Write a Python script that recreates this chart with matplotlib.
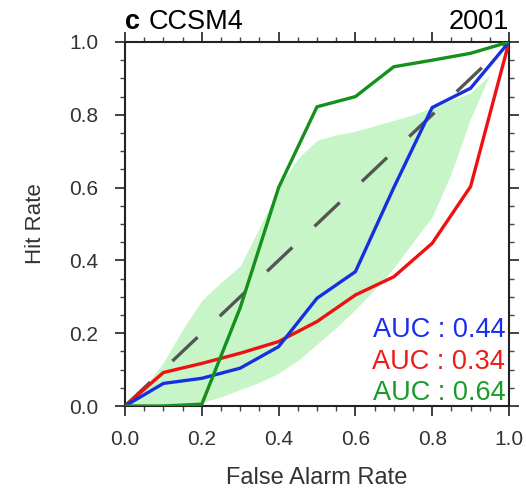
import matplotlib
matplotlib.use("Agg")
import matplotlib.pyplot as plt
from matplotlib.ticker import MultipleLocator

plt.rcParams['font.family'] = ['Liberation Sans', 'DejaVu Sans']
plt.rcParams['lines.scale_dashes'] = False

# ROC data
far = [0.0, 0.1, 0.2, 0.3, 0.4, 0.5, 0.6, 0.7, 0.8, 0.9, 1.0]
hit_blue = [0.0, 0.062, 0.076, 0.104, 0.163, 0.296, 0.369, 0.60, 0.82, 0.873, 1.0]
hit_red = [0.0, 0.092, 0.117, 0.145, 0.177, 0.232, 0.305, 0.355, 0.447, 0.603, 1.0]
hit_green = [0.0, 0.0, 0.005, 0.27, 0.60, 0.822, 0.850, 0.932, 0.95, 0.969, 1.0]

# shaded envelope
env_x = [0.0, 0.05, 0.1, 0.15, 0.2, 0.25, 0.3, 0.35, 0.4, 0.45, 0.5, 0.55, 0.6,
         0.65, 0.7, 0.75, 0.8, 0.85, 0.9, 0.95, 1.0]
env_lower = [0.0, 0.0, 0.0, 0.005, 0.01, 0.025, 0.045, 0.065, 0.09, 0.125, 0.17,
             0.215, 0.265, 0.32, 0.38, 0.45, 0.52, 0.64, 0.79, 0.91, 1.0]
env_upper = [0.0, 0.05, 0.12, 0.21, 0.29, 0.34, 0.385, 0.49, 0.60, 0.68, 0.73,
             0.745, 0.755, 0.77, 0.785, 0.80, 0.82, 0.84, 0.86, 0.91, 1.0]

diag = [0.0, 1.0]
auc_labels = ["AUC : 0.44", "AUC : 0.34", "AUC : 0.64"]
auc_colors = ["#1a2cf0", "#f01a1a", "#1a9a2a"]

fig = plt.figure(figsize=(5.26, 4.93), dpi=100)
ax = fig.add_axes([125/526, 1 - 406/493, 384/526, 364/493])

ax.fill_between(env_x, env_lower, env_upper, color='#c8f5c8', lw=0, zorder=1)
ax.plot(diag, diag, color='#555555', lw=2.4, dashes=(25, 22), zorder=2)
ax.plot(far, hit_red, color='#ee1111', lw=2.4, zorder=3)
ax.plot(far, hit_blue, color='#1530e0', lw=2.4, zorder=4)
ax.plot(far, hit_green, color='#15901d', lw=2.4, zorder=5)

ax.set_xlim(0, 1)
ax.set_ylim(0, 1)
ax.xaxis.set_major_locator(MultipleLocator(0.2))
ax.yaxis.set_major_locator(MultipleLocator(0.2))
ax.xaxis.set_minor_locator(MultipleLocator(0.05))
ax.yaxis.set_minor_locator(MultipleLocator(0.05))
ax.tick_params(which='both', direction='out', top=True, right=True, color='#222222')
ax.tick_params(which='major', length=7, width=1.3, labelsize=15, pad=10, colors='#333333')
ax.tick_params(which='minor', length=3.5, width=1.0, color='#444444')
ax.tick_params(axis='y', which='major', pad=12)
ax.xaxis.set_major_formatter(plt.FormatStrFormatter('%.1f'))
ax.yaxis.set_major_formatter(plt.FormatStrFormatter('%.1f'))
for s in ax.spines.values():
    s.set_linewidth(1.5)
    s.set_color('#222222')

ax.set_xlabel("False Alarm Rate", fontsize=17, color='#333333', labelpad=13)
ax.set_ylabel("Hit Rate", fontsize=16, color='#333333', labelpad=17)

for i, (lab, col) in enumerate(zip(auc_labels, auc_colors)):
    ax.text(0.99, 0.19 - i * 0.087, lab, color=col, fontsize=19.5,
            ha='right', va='baseline', transform=ax.transAxes, zorder=6)

fig.text(125/526, 1 - 29/493, "c", fontsize=19.5, fontweight='bold', ha='left', va='baseline')
fig.text(149/526, 1 - 29/493, "CCSM4", fontsize=19.5, ha='left', va='baseline')
fig.text(509/526, 1 - 29/493, "2001", fontsize=19.5, ha='right', va='baseline')

fig.savefig("out.png", dpi=100)
